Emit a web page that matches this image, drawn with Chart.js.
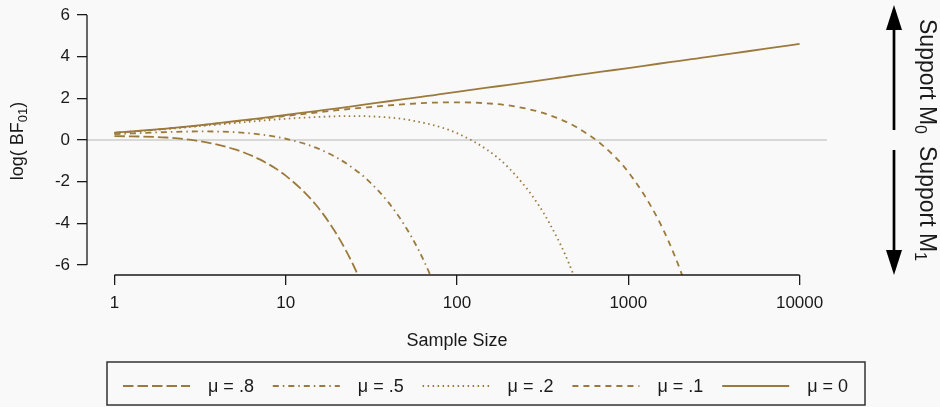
<!DOCTYPE html>
<html>
<head>
<meta charset="utf-8">
<script src="https://cdn.jsdelivr.net/npm/chart.js@4.4.0/dist/chart.umd.min.js"></script>
<style>
  html, body { margin: 0; padding: 0; background: #f9f9f9; }
  #wrap { width: 940px; height: 407px; position: relative; }
</style>
</head>
<body>
<div id="wrap"><canvas id="bf"></canvas></div>
<script>
// sample sizes the curves were read at
const sampleSizes = [1, 2, 3, 5, 7, 10, 15, 20, 25, 30, 40, 50, 60, 70, 80, 100, 150, 200,
  300, 400, 450, 500, 700, 1000, 1500, 2000, 2500, 3000, 5000, 7000, 10000];

// log(BF01), null once the curve has left the plot
const mu8 = [0.19, 0.12, -0.03, -0.44, -0.92, -1.71, -3.11, -4.57, -6.06, -7.57];
const mu5 = [0.28, 0.38, 0.41, 0.38, 0.27, 0.06, -0.37, -0.86, -1.38, -1.91, -3.02, -4.16,
  -5.32, -6.50, -7.68];
const mu2 = [0.34, 0.52, 0.65, 0.81, 0.92, 1.02, 1.10, 1.14, 1.15, 1.14, 1.08, 0.99, 0.87,
  0.75, 0.62, 0.33, -0.47, -1.33, -3.13, -4.98, -5.92, -6.87];
const mu1 = [0.34, 0.54, 0.68, 0.88, 1.01, 1.15, 1.32, 1.43, 1.51, 1.57, 1.66, 1.72, 1.76,
  1.79, 1.80, 1.81, 1.76, 1.66, 1.36, 1.00, 0.81, 0.61, -0.22, -1.54, -3.84, -6.19, -8.58];
const mu0 = [0.35, 0.55, 0.69, 0.90, 1.04, 1.20, 1.39, 1.52, 1.63, 1.72, 1.86, 1.97, 2.06,
  2.13, 2.20, 2.31, 2.51, 2.65, 2.85, 3.00, 3.06, 3.11, 3.28, 3.45, 3.66, 3.80, 3.91, 4.00,
  4.26, 4.43, 4.61];

const seriesLabels = ["μ = .8", "μ = .5", "μ = .2", "μ = .1", "μ = 0"];
const xTicks = [1, 10, 100, 1000, 10000];
const yTicks = [-6, -4, -2, 0, 2, 4, 6];

const lineColor = "#9c7a3c";
const inkColor = "#1a1a1a";
const family = "'Liberation Sans', Arial, Helvetica, sans-serif";
const dashes = [[10.5, 4], [6, 4, 1.5, 4], [1.5, 3.5], [6, 5], []];

const allSeries = [mu8, mu5, mu2, mu1, mu0];

const datasets = allSeries.map((vals, i) => ({
  label: seriesLabels[i],
  data: vals.map((v, k) => ({ x: sampleSizes[k], y: v })),
  borderColor: lineColor,
  borderDash: dashes[i],
  borderWidth: 1.8,
  pointRadius: 0,
  fill: false,
  cubicInterpolationMode: "monotone"
}));

// draws a label made of plain + subscript parts along the current x direction
function drawParts(ctx, parts, x, y, align) {
  let total = 0;
  parts.forEach(p => {
    ctx.font = `${p.size}px ${family}`;
    p.w = ctx.measureText(p.t).width;
    total += p.w;
  });
  let cx = align === "center" ? x - total / 2 : align === "right" ? x - total : x;
  ctx.textAlign = "left";
  ctx.textBaseline = "alphabetic";
  parts.forEach(p => {
    ctx.font = `${p.size}px ${family}`;
    ctx.fillText(p.t, cx, y + (p.dy || 0));
    cx += p.w;
  });
}

function drawArrow(ctx, x, from, to) {
  const dir = Math.sign(to - from);
  const headLen = 25, halfW = 8;
  ctx.beginPath();
  ctx.lineWidth = 2.7;
  ctx.moveTo(x, from);
  ctx.lineTo(x, to - dir * headLen);
  ctx.stroke();
  ctx.beginPath();
  ctx.moveTo(x, to);
  ctx.lineTo(x - halfW, to - dir * headLen);
  ctx.lineTo(x + halfW, to - dir * headLen);
  ctx.closePath();
  ctx.fill();
}

const decor = {
  id: "decor",
  beforeDatasetsDraw(chart) {
    const { ctx, chartArea: a, scales: { y } } = chart;
    const y0 = y.getPixelForValue(0);
    ctx.save();
    ctx.strokeStyle = "#cccccc";
    ctx.lineWidth = 1.5;
    ctx.beginPath();
    ctx.moveTo(a.left, y0);
    ctx.lineTo(a.right, y0);
    ctx.stroke();
    ctx.restore();
  },
  afterDraw(chart) {
    const { ctx, chartArea: a, scales: { x, y } } = chart;
    ctx.save();
    ctx.strokeStyle = inkColor;
    ctx.fillStyle = inkColor;

    // R style axis lines, only between the outer ticks
    ctx.lineWidth = 1.3;
    ctx.beginPath();
    ctx.moveTo(a.left, y.getPixelForValue(yTicks[0]));
    ctx.lineTo(a.left, y.getPixelForValue(yTicks[yTicks.length - 1]));
    ctx.moveTo(x.getPixelForValue(xTicks[0]), a.bottom);
    ctx.lineTo(x.getPixelForValue(xTicks[xTicks.length - 1]), a.bottom);
    ctx.stroke();

    // axis titles
    drawParts(ctx, [{ t: "Sample Size", size: 18 }], (a.left + a.right) / 2, 346, "center");

    ctx.save();
    ctx.translate(23, 141);
    ctx.rotate(-Math.PI / 2);
    drawParts(ctx, [
      { t: "log( BF", size: 18 },
      { t: "01", size: 13, dy: 4 },
      { t: ")", size: 18 }
    ], 0, 0, "center");
    ctx.restore();

    // support arrows on the right
    ctx.strokeStyle = "#000000";
    ctx.fillStyle = "#000000";
    drawArrow(ctx, 894, 130, 5);
    drawArrow(ctx, 894, 150, 275);

    ctx.fillStyle = inkColor;
    ctx.save();
    ctx.translate(920, 0);
    ctx.rotate(Math.PI / 2);
    drawParts(ctx, [
      { t: "Support M", size: 23 },
      { t: "0", size: 16, dy: 5 }
    ], 134, 0, "right");
    drawParts(ctx, [
      { t: "Support M", size: 23 },
      { t: "1", size: 16, dy: 5 }
    ], 146, 0, "left");
    ctx.restore();

    // legend box
    ctx.lineWidth = 1.5;
    ctx.strokeStyle = "#333333";
    ctx.strokeRect(107, 362, 758, 43);
    const legY = 386;
    chart.data.datasets.forEach((ds, i) => {
      const x0 = 123 + i * 149.8;
      ctx.save();
      ctx.strokeStyle = ds.borderColor;
      ctx.lineWidth = 1.8;
      ctx.setLineDash(ds.borderDash);
      ctx.beginPath();
      ctx.moveTo(x0, legY);
      ctx.lineTo(x0 + 67, legY);
      ctx.stroke();
      ctx.restore();
      ctx.font = `18px ${family}`;
      ctx.textAlign = "left";
      ctx.textBaseline = "middle";
      ctx.fillText(ds.label, x0 + 85, legY + 1);
    });
    ctx.restore();
  }
};

new Chart(document.getElementById("bf"), {
  type: "line",
  data: { datasets },
  plugins: [decor],
  options: {
    responsive: true,
    maintainAspectRatio: false,
    animation: false,
    layout: { padding: { left: 0, right: 113, top: 5, bottom: 0 } },
    plugins: { legend: { display: false }, tooltip: { enabled: false } },
    scales: {
      x: {
        type: "logarithmic",
        min: Math.pow(10, -0.16),
        max: Math.pow(10, 4.16),
        afterBuildTicks: s => { s.ticks = xTicks.map(v => ({ value: v })); },
        afterFit: s => { s.height = 132; s.paddingLeft = 0; s.paddingRight = 0; },
        grid: { drawOnChartArea: false, drawTicks: true, tickLength: 10, color: inkColor, lineWidth: 1.3 },
        border: { display: false },
        ticks: {
          color: inkColor,
          font: { family, size: 17 },
          padding: 8,
          maxRotation: 0,
          autoSkip: false,
          callback: v => String(v)
        }
      },
      y: {
        min: -6.48,
        max: 6.48,
        afterBuildTicks: s => { s.ticks = yTicks.map(v => ({ value: v })); },
        afterFit: s => { s.width = 87; s.paddingTop = 0; s.paddingBottom = 0; },
        grid: { drawOnChartArea: false, drawTicks: true, tickLength: 10, color: inkColor, lineWidth: 1.3 },
        border: { display: false },
        ticks: {
          color: inkColor,
          font: { family, size: 17 },
          padding: 7,
          autoSkip: false,
          callback: v => String(v)
        }
      }
    }
  }
});
</script>
</body>
</html>
